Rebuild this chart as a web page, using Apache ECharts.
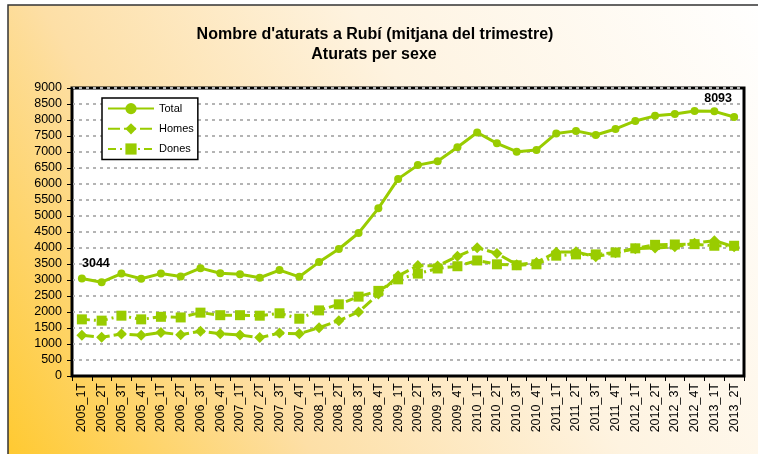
<!DOCTYPE html>
<html>
<head>
<meta charset="utf-8">
<script src="https://cdn.jsdelivr.net/npm/echarts@6/dist/echarts.min.js"></script>
<style>
  html, body { margin: 0; padding: 0; background: #fff; }
  #chart { width: 758px; height: 454px; }
</style>
</head>
<body>
<div id="chart"></div>
<script>
const categories = [
    '2005_1T', '2005_2T', '2005_3T', '2005_4T',
    '2006_1T', '2006_2T', '2006_3T', '2006_4T',
    '2007_1T', '2007_2T', '2007_3T', '2007_4T',
    '2008_1T', '2008_2T', '2008_3T', '2008_4T',
    '2009_1T', '2009_2T', '2009_3T', '2009_4T',
    '2010_1T', '2010_2T', '2010_3T', '2010_4T',
    '2011_1T', '2011_2T', '2011_3T', '2011_4T',
    '2012_1T', '2012_2T', '2012_3T', '2012_4T',
    '2013_1T', '2013_2T',
];
const total = [
    3044, 2930, 3200, 3040, 3200, 3110, 3370, 3210,
    3180, 3070, 3310, 3100, 3560, 3970, 4470, 5240,
    6160, 6590, 6710, 7150, 7610, 7270, 7010, 7060,
    7580, 7660, 7530, 7720, 7970, 8130, 8190, 8280,
    8270, 8093,
];
const homes = [
    1270, 1210, 1310, 1270, 1360, 1290, 1400, 1320,
    1280, 1200, 1340, 1320, 1510, 1730, 2000, 2560,
    3130, 3450, 3440, 3740, 4010, 3830, 3480, 3550,
    3870, 3880, 3730, 3850, 3980, 4000, 4040, 4150,
    4230, 4040,
];
const dones = [
    1770, 1730, 1885, 1770, 1850, 1830, 1980, 1900,
    1900, 1885, 1960, 1790, 2050, 2240, 2480, 2660,
    3020, 3200, 3360, 3430, 3610, 3490, 3460, 3490,
    3760, 3800, 3800, 3860, 3990, 4100, 4110, 4120,
    4070, 4070,
];
const yTicks = { min: 0, max: 9000, interval: 500 };

const green = '#99CC00';
const font = 'Arial, "Liberation Sans", sans-serif';

// label only first and last value of the total series
const totalData = total.map((v, i) => {
    if (i === 0) {
        return { value: v, label: { show: true, offset: [14, 0] } };
    }
    if (i === total.length - 1) {
        return { value: v, label: { show: true, offset: [-16, -3] } };
    }
    return v;
});

const chart = echarts.init(document.getElementById('chart'));
chart.setOption({
    backgroundColor: '#fff',
    animation: false,
    textStyle: { fontFamily: font },
    graphic: [
        {
            type: 'rect',
            z: -10,
            shape: { x: 8, y: 5, width: 760, height: 460 },
            style: {
                fill: new echarts.graphic.LinearGradient(0, 1, 1, 0, [
                    { offset: 0, color: '#FFC92E' },
                    { offset: 0.3, color: '#FDDFA6' },
                    { offset: 0.6, color: '#FEF3E0' },
                    { offset: 1, color: '#FFFFFF' },
                ]),
                stroke: '#333',
                lineWidth: 1.5,
            },
        },
        {
            type: 'text',
            x: 375,
            y: 35,
            style: {
                text: "Nombre d'aturats a Rubí (mitjana del trimestre)",
                font: 'bold 16px ' + font,
                fill: '#000',
                align: 'center',
                verticalAlign: 'middle',
            },
        },
        {
            type: 'text',
            x: 374,
            y: 55,
            style: {
                text: 'Aturats per sexe',
                font: 'bold 16px ' + font,
                fill: '#000',
                align: 'center',
                verticalAlign: 'middle',
            },
        },
    ],
    legend: {
        orient: 'vertical',
        left: 102,
        top: 98,
        padding: [5, 4, 5, 5],
        itemWidth: 46,
        itemHeight: 14,
        itemGap: 9,
        itemTextGap: 2,
        backgroundColor: '#fff',
        borderColor: '#000',
        borderWidth: 1.5,
        textStyle: { fontSize: 11, color: '#000', fontFamily: font },
        data: ['Total', 'Homes', 'Dones'],
    },
    grid: {
        left: 72,
        top: 88,
        right: 14,
        bottom: 78,
        show: true,
        backgroundColor: '#fff',
        borderColor: '#000',
        borderWidth: 3,
        containLabel: false,
    },
    xAxis: {
        type: 'category',
        data: categories,
        boundaryGap: true,
        axisLine: { lineStyle: { color: '#000', width: 2 } },
        axisTick: { show: true, length: 5, lineStyle: { color: '#000', width: 1 } },
        axisLabel: {
            rotate: 90,
            interval: 0,
            margin: 7,
            fontSize: 12.5,
            color: '#000',
            fontFamily: font,
        },
        splitLine: { show: false },
    },
    yAxis: {
        type: 'value',
        min: yTicks.min,
        max: yTicks.max,
        interval: yTicks.interval,
        axisLine: { show: true, lineStyle: { color: '#000', width: 2 } },
        axisTick: { show: true, length: 5, lineStyle: { color: '#000', width: 1 } },
        axisLabel: {
            margin: 10,
            fontSize: 12.5,
            color: '#000',
            fontFamily: font,
            formatter: (v) => String(v),
        },
        splitLine: {
            show: true,
            lineStyle: { color: '#B4B4B4', width: 2, type: [3, 4] },
        },
    },
    series: [
        {
            name: 'Total',
            type: 'line',
            data: totalData,
            symbol: 'circle',
            symbolSize: 8,
            itemStyle: { color: green },
            lineStyle: { color: green, width: 3 },
            label: {
                show: false,
                position: 'top',
                distance: 5,
                fontWeight: 'bold',
                fontSize: 12.5,
                color: '#000',
                fontFamily: font,
            },
        },
        {
            name: 'Homes',
            type: 'line',
            data: homes,
            symbol: 'diamond',
            symbolSize: 11,
            itemStyle: { color: green },
            lineStyle: { color: green, width: 3, type: [12, 4] },
        },
        {
            name: 'Dones',
            type: 'line',
            data: dones,
            symbol: 'rect',
            symbolSize: 10,
            itemStyle: { color: green },
            lineStyle: { color: green, width: 3, type: [8, 4, 2, 4] },
        },
    ],
});
</script>
</body>
</html>
